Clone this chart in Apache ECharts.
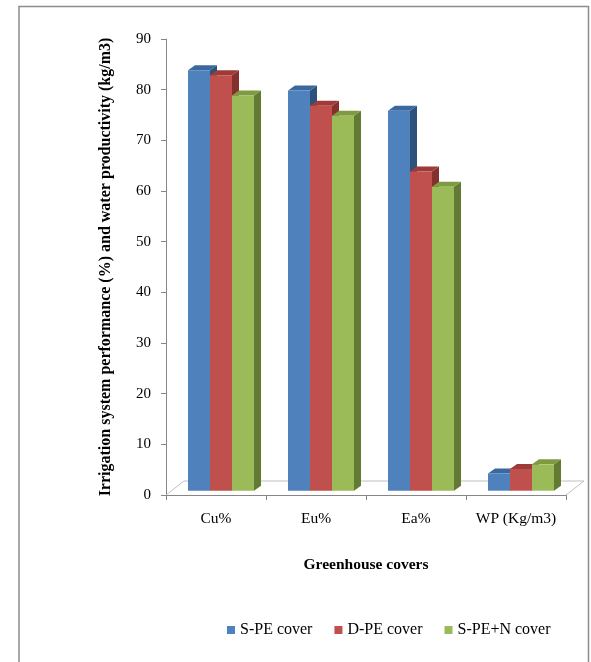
<!DOCTYPE html>
<html>
<head>
<meta charset="utf-8">
<script src="https://cdn.jsdelivr.net/npm/echarts@6/dist/echarts.min.js"></script>
<style>
html,body{margin:0;padding:0;background:#fff;}
#main{width:591px;height:662px;}
</style>
</head>
<body>
<div id="main"></div>
<script>
// ---- data ----
var categories = ['Cu%', 'Eu%', 'Ea%', 'WP (Kg/m3)'];
var seriesNames = ['S-PE cover', 'D-PE cover', 'S-PE+N cover'];
var spe = [83, 79, 75, 3.4];
var dpe = [82, 76, 63, 4.3];
var spen = [78, 74, 60, 5.2];
var yTicks = [0, 10, 20, 30, 40, 50, 60, 70, 80, 90];

var faces = [
  {front: '#4F81BD', top: '#3B689E', side: '#2E5179'},
  {front: '#C0504D', top: '#9E3B39', side: '#86302E'},
  {front: '#9BBB59', top: '#7E9B42', side: '#627A33'}
];

var BAR_W = 22, DEP_X = 7, DEP_Y = -5, PLANE_X = 5, PLANE_Y = -4.3;

function makeRender(sIdx) {
  return function (params, api) {
    var i = api.value(0), v = api.value(1);
    var base = api.coord([i, 0]);
    var topP = api.coord([i, v]);
    var xl = base[0] - 1.5 * BAR_W + sIdx * BAR_W + PLANE_X;
    var xr = xl + BAR_W;
    var yb = base[1] + PLANE_Y;
    var yt = topP[1] + PLANE_Y;
    var f = faces[sIdx];
    return {
      type: 'group',
      children: [
        {type: 'polygon', shape: {points: [[xr, yb], [xr + DEP_X, yb + DEP_Y], [xr + DEP_X, yt + DEP_Y], [xr, yt]]}, style: {fill: f.side}},
        {type: 'polygon', shape: {points: [[xl, yt], [xr, yt], [xr + DEP_X, yt + DEP_Y], [xl + DEP_X, yt + DEP_Y]]}, style: {fill: f.top}},
        {type: 'rect', shape: {x: xl, y: yt, width: BAR_W, height: yb - yt}, style: {fill: f.front}}
      ]
    };
  };
}

function floorRender(params, api) {
  var cs = params.coordSys;
  var x0 = cs.x, x1 = cs.x + cs.width, y0 = cs.y + cs.height;
  var dx = 18, dy = -14;
  return {
    type: 'polyline',
    shape: {points: [[x0, y0], [x0 + dx, y0 + dy], [x1 + dx, y0 + dy], [x1, y0]]},
    style: {stroke: '#BFBFBF', lineWidth: 1, fill: null},
    z2: 0
  };
}

var dataSets = [spe, dpe, spen];
var series = [{
  type: 'custom',
  name: '_floor',
  renderItem: floorRender,
  data: [[0, 0]],
  silent: true,
  z: 1
}];
dataSets.forEach(function (arr, s) {
  series.push({
    type: 'custom',
    name: seriesNames[s],
    renderItem: makeRender(s),
    itemStyle: {color: faces[s].front},
    data: arr.map(function (v, i) { return [i, v]; }),
    encode: {x: 0, y: 1},
    z: 2 + s
  });
});

var chart = echarts.init(document.getElementById('main'), null, {renderer: 'canvas'});
chart.setOption({
  backgroundColor: '#fff',
  animation: false,
  textStyle: {fontFamily: 'Liberation Serif'},
  grid: {left: 166, right: 25, top: 39, bottom: 167},
  graphic: [{
    type: 'rect',
    shape: {x: 19, y: 6.5, width: 569.5, height: 700},
    style: {fill: null, stroke: '#8C8C8C', lineWidth: 1.5},
    silent: true
  }],
  legend: {
    data: seriesNames,
    left: 222,
    top: 617,
    icon: 'rect',
    itemWidth: 8,
    itemHeight: 8,
    itemGap: 22,
    textStyle: {fontFamily: 'Liberation Serif', fontSize: 16, color: '#000'}
  },
  xAxis: {
    type: 'category',
    data: categories,
    name: 'Greenhouse covers',
    nameLocation: 'middle',
    nameGap: 62,
    nameTextStyle: {fontFamily: 'Liberation Serif', fontSize: 15.5, fontWeight: 'bold', color: '#000'},
    axisLine: {lineStyle: {color: '#868686', width: 1}},
    axisTick: {show: true, interval: 0, length: 5, alignWithLabel: false, lineStyle: {color: '#868686'}},
    axisLabel: {interval: 0, hideOverlap: false, fontFamily: 'Liberation Serif', fontSize: 15.5, color: '#000', margin: 16}
  },
  yAxis: {
    type: 'value',
    min: 0,
    max: 90,
    interval: 10,
    name: 'Irrigation system performance (%) and water productivity (kg/m3)',
    nameLocation: 'middle',
    nameGap: 52,
    nameTextStyle: {fontFamily: 'Liberation Serif', fontSize: 16, fontWeight: 'bold', color: '#000'},
    axisLine: {show: true, lineStyle: {color: '#868686', width: 1}},
    axisTick: {show: true, length: 5, lineStyle: {color: '#868686'}},
    axisLabel: {fontFamily: 'Liberation Serif', fontSize: 15, color: '#000', margin: 15,
      formatter: function (v) { return yTicks.indexOf(v) >= 0 ? String(v) : ''; }},
    splitLine: {show: false}
  },
  series: series
});
</script>
</body>
</html>
